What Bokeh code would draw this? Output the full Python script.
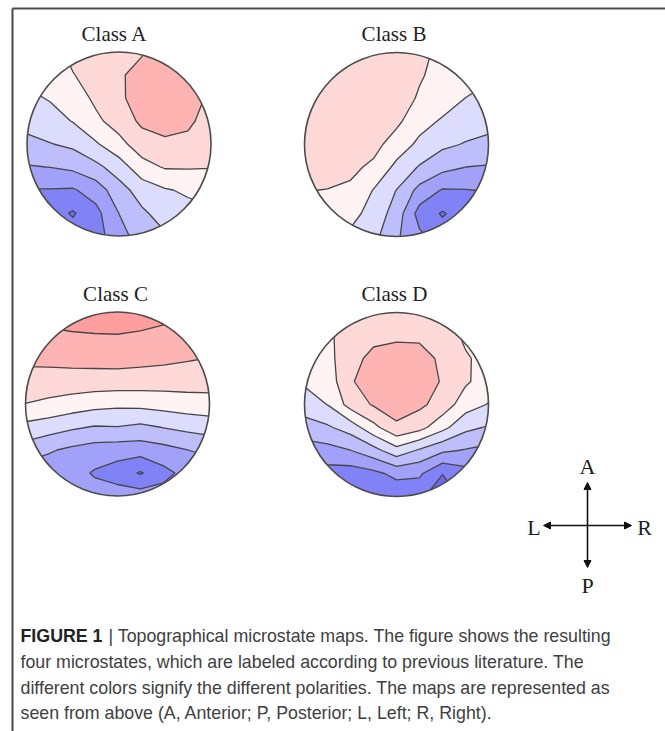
import numpy as np
from bokeh.plotting import figure
from bokeh.models import Range1d, Arrow, NormalHead
from bokeh.core.properties import value
from bokeh.embed import file_html
from bokeh.resources import INLINE

W, H = 665, 731

# Electrode grid (head-radius units): left -> right and posterior -> anterior
GRID = [-1.0, -0.75, -0.5, -0.25, 0.0, 0.25, 0.5, 0.75, 1.0]

# Scalp field of each microstate in contour steps (rows: anterior/top -> posterior/bottom)
class_a = [
    [-0.10, 0.04, 0.80, 1.10, 1.30, 1.40, 2.30, 2.40, 2.30],
    [-0.34, -0.19, 0.455, 0.95, 1.35, 1.90, 2.30, 2.30, 1.70],
    [-0.71, -0.42, 0.00, 0.70, 1.30, 2.00, 2.30, 2.20, 1.20],
    [-1.18, -0.91, -0.45, 0.30, 0.93, 1.70, 1.90, 1.75, 0.95],
    [-1.75, -1.54, -1.28, -0.61, 0.19, 1.04, 1.31, 1.17, 0.86],
    [-2.58, -2.48, -2.27, -1.76, -1.00, 0.125, 0.59, 0.59, 0.54],
    [-3.55, -3.55, -3.60, -3.03, -1.90, -1.05, -0.58, -0.36, -0.17],
    [-3.95, -4.10, -4.60, -3.80, -2.48, -1.66, -1.09, -0.79, -0.64],
    [-4.10, -4.20, -4.10, -3.90, -2.90, -2.00, -1.60, -1.10, -0.90],
]
class_b = [
    [1.20, 1.25, 1.30, 1.30, 1.20, 0.70, 0.30, 0.10, -0.10],
    [1.20, 1.25, 1.30, 1.30, 1.15, 0.60, 0.15, -0.05, -0.30],
    [1.10, 1.20, 1.25, 1.20, 1.00, 0.38, 0.00, -0.52, -0.85],
    [1.00, 1.10, 1.10, 1.00, 0.70, -0.13, -0.63, -1.02, -1.20],
    [0.85, 0.95, 0.95, 0.80, 0.06, -0.73, -1.30, -1.57, -1.75],
    [0.70, 0.75, 0.70, 0.31, -0.77, -1.60, -2.21, -2.52, -2.60],
    [0.52, 0.48, 0.34, -0.55, -1.53, -2.83, -3.60, -3.55, -3.45],
    [0.30, 0.17, -0.17, -0.88, -1.94, -3.90, -4.60, -4.00, -3.80],
    [0.10, -0.14, -0.70, -1.21, -2.35, -3.30, -4.00, -3.80, -3.70],
]
class_c = [
    [2.80, 2.88, 3.00, 3.07, 3.10, 3.00, 2.80, 2.60, 2.55],
    [2.28, 2.32, 2.41, 2.46, 2.48, 2.39, 2.26, 2.14, 2.02],
    [1.72, 1.76, 1.82, 1.86, 1.90, 1.82, 1.73, 1.61, 1.49],
    [1.13, 1.11, 1.09, 1.07, 1.06, 1.02, 0.98, 0.93, 0.89],
    [0.48, 0.28, 0.06, -0.16, -0.28, -0.22, -0.10, 0.05, 0.13],
    [-0.79, -1.02, -1.33, -1.56, -1.52, -1.70, -1.45, -1.22, -1.06],
    [-1.94, -2.38, -2.70, -2.95, -3.03, -3.06, -2.83, -2.52, -2.27],
    [-3.00, -3.10, -3.10, -3.60, -4.00, -4.60, -3.80, -3.20, -3.00],
    [-3.30, -3.20, -3.20, -3.10, -3.00, -3.00, -3.10, -3.20, -3.20],
]
class_d = [
    [0.30, 0.40, 0.85, 1.10, 1.20, 1.00, 0.90, 0.30, 0.20],
    [0.10, 0.30, 1.00, 1.30, 1.30, 1.30, 1.10, 0.30, 0.20],
    [-0.10, 0.15, 1.25, 1.70, 2.00, 1.90, 1.30, 0.62, 0.15],
    [-0.35, -0.10, 1.42, 1.90, 2.20, 2.00, 1.42, 0.65, 0.00],
    [-1.02, -0.48, 0.90, 1.60, 2.00, 1.70, 1.10, -0.05, -0.55],
    [-1.92, -1.64, -1.06, 0.20, 1.30, 0.85, -0.20, -1.24, -1.60],
    [-3.00, -2.85, -2.52, -1.87, -0.86, -1.64, -2.33, -2.58, -2.80],
    [-3.90, -3.90, -4.00, -3.75, -3.23, -3.34, -4.45, -3.90, -3.70],
    [-4.00, -4.00, -4.20, -4.00, -4.20, -4.20, -5.40, -4.10, -4.00],
]

titles = ["Class A", "Class B", "Class C", "Class D"]
maps = [class_a, class_b, class_c, class_d]

# Contour levels and the colour of each band between them (negative = blue, positive = red)
LEVELS = [-9, -4.5, -3.5, -2.5, -1.5, -0.5, 0.5, 1.5, 2.5, 9]
BAND_COLORS = ["#6b6bf0", "#8282f7", "#a1a1fa", "#bebefc", "#dcdcfe",
               "#fff3f3", "#ffd8d8", "#ffb4b4", "#ff9e9e"]

compass_labels = ["A", "P", "L", "R"]

caption_bold = "FIGURE 1"
caption_lines = [
    "| Topographical microstate maps. The figure shows the resulting",
    "four microstates, which are labeled according to previous literature. The",
    "different colors signify the different polarities. The maps are represented as",
    "seen from above (A, Anterior; P, Posterior; L, Left; R, Right).",
]

# ---- layout (screen pixels, y measured from the top) ----
R = 92.0
centers = [(118.5, 143.5), (396.0, 144.0), (117.0, 403.5), (396.0, 404.0)]
title_pos = [(114.0, 33.5), (393.5, 33.5), (115.0, 293.5), (394.0, 293.5)]


def sy(y):
    return H - y


p = figure(width=W, height=H, x_range=Range1d(0, W), y_range=Range1d(0, H),
           output_backend="svg", toolbar_location=None, min_border=0,
           x_axis_location=None, y_axis_location=None)
p.grid.visible = False
p.outline_line_color = None
p.background_fill_color = "white"
p.border_fill_color = "white"

g = np.array(GRID)
for vals, (cx, cy) in zip(maps, centers):
    z = np.flipud(np.array(vals, dtype=float))
    xs = cx + R * g
    ys = sy(cy) + R * g
    p.contour(xs, ys, z, LEVELS, fill_color=BAND_COLORS,
              line_color="#454545", line_width=1.3)
    # white mask outside the scalp
    p.annulus(x=[cx], y=[sy(cy)], inner_radius=R, outer_radius=R * 1.45,
              fill_color="white", line_color=None)
    p.circle(x=[cx], y=[sy(cy)], radius=R, fill_color=None,
             line_color="#4c4c4c", line_width=1.6)

# frame lines
p.line(x=[12, W], y=[sy(8), sy(8)], line_color="#4a4a4a", line_width=2)
p.line(x=[12, 12], y=[sy(8), 0], line_color="#4a4a4a", line_width=2)

# map titles
p.text(x=[t[0] for t in title_pos], y=[sy(t[1]) for t in title_pos], text=titles,
       text_font=value("Liberation Serif"), text_font_size="21px",
       text_align="center", text_baseline="alphabetic", text_color="#1e1e1e")

# orientation cross
ccx, ccy = 587.0, 525.0
head = dict(size=7, fill_color="#111111", line_color="#111111")
p.add_layout(Arrow(start=NormalHead(**head), end=NormalHead(**head),
                   x_start=ccx, y_start=sy(482), x_end=ccx, y_end=sy(567),
                   line_color="#111111", line_width=1.6))
p.add_layout(Arrow(start=NormalHead(**head), end=NormalHead(**head),
                   x_start=543, y_start=sy(ccy), x_end=631, y_end=sy(ccy),
                   line_color="#111111", line_width=1.6))
p.text(x=[ccx, ccx, 533.5, 644.0], y=[sy(465.5), sy(585.0), sy(527.0), sy(527.0)],
       text=compass_labels, text_font=value("Liberation Serif"), text_font_size="22px",
       text_align="center", text_baseline="alphabetic", text_color="#1e1e1e")

# caption
cap_font = value("Liberation Sans")
cap_size = "17.8px"
base = [635.5, 661.5, 687.0, 712.5]
p.text(x=[20], y=[sy(base[0])], text=[caption_bold], text_font=cap_font,
       text_font_size=cap_size, text_font_style="bold", text_baseline="alphabetic",
       text_color="#222222")
p.text(x=[108.0, 20, 20, 20], y=[sy(b) for b in base], text=caption_lines,
       text_font=cap_font, text_font_size=cap_size, text_baseline="alphabetic",
       text_color="#404040")

open("out.html", "w").write(file_html(p, INLINE))
